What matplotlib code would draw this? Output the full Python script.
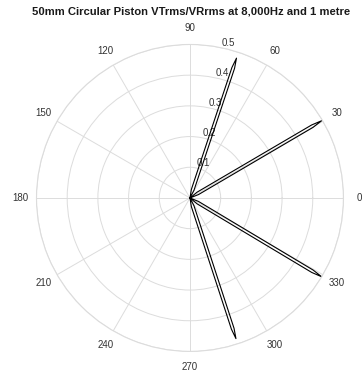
import numpy as np
import matplotlib
matplotlib.use("Agg")
import matplotlib.pyplot as plt

# Directivity lobes: centre angle (deg) and peak ratio
lobe_angles = [30.4, 71.6, 288.1, 329.1]
lobe_peaks = [0.497, 0.480, 0.482, 0.500]

r_ticks = [0.1, 0.2, 0.3, 0.4, 0.5]
theta_ticks = [0, 30, 60, 90, 120, 150, 180, 210, 240, 270, 300, 330]

title = "50mm Circular Piston VTrms/VRrms at 8,000Hz and 1 metre"

plt.rcParams["font.family"] = ["Liberation Sans", "DejaVu Sans"]

fig = plt.figure(figsize=(3.62, 3.74), dpi=100)
ax = fig.add_axes([0.1008, 0.0602, 0.848, 0.821], projection="polar")

# each lobe is drawn as a slim closed outline with a fixed half-width
half_width = 0.0045
steps = np.array([0.06, 0.3, 0.6, 0.93])
grid_col = "#dcdcdc"
for a, p in zip(lobe_angles, lobe_peaks):
    rad = p * steps
    off = np.arcsin(np.minimum(half_width / rad, 1.0))
    c = np.deg2rad(a)
    th = np.concatenate([[c], c - off, [c], (c + off)[::-1], [c]])
    rr = np.concatenate([[0.0], rad, [p], rad[::-1], [0.0]])
    ax.plot(th, rr, color="black", lw=0.8, solid_joinstyle="round")

ax.set_ylim(0, 0.5)
ax.set_yticks(r_ticks)
ax.set_yticklabels([f"{v:g}" for v in r_ticks], fontsize=7, color="#333333")
ax.set_rlabel_position(78)
ax.set_thetagrids(theta_ticks, [str(t) for t in theta_ticks], fontsize=7, color="#333333")
ax.tick_params(axis="x", pad=1)
ax.grid(True, color=grid_col, lw=0.7)
ax.spines["polar"].set_color(grid_col)
ax.spines["polar"].set_linewidth(0.8)

fig.text(0.528, 0.968, title, ha="center", va="center", fontsize=8.1,
         fontweight="bold", color="#1a1a1a")

fig.savefig("out.png", dpi=100)
